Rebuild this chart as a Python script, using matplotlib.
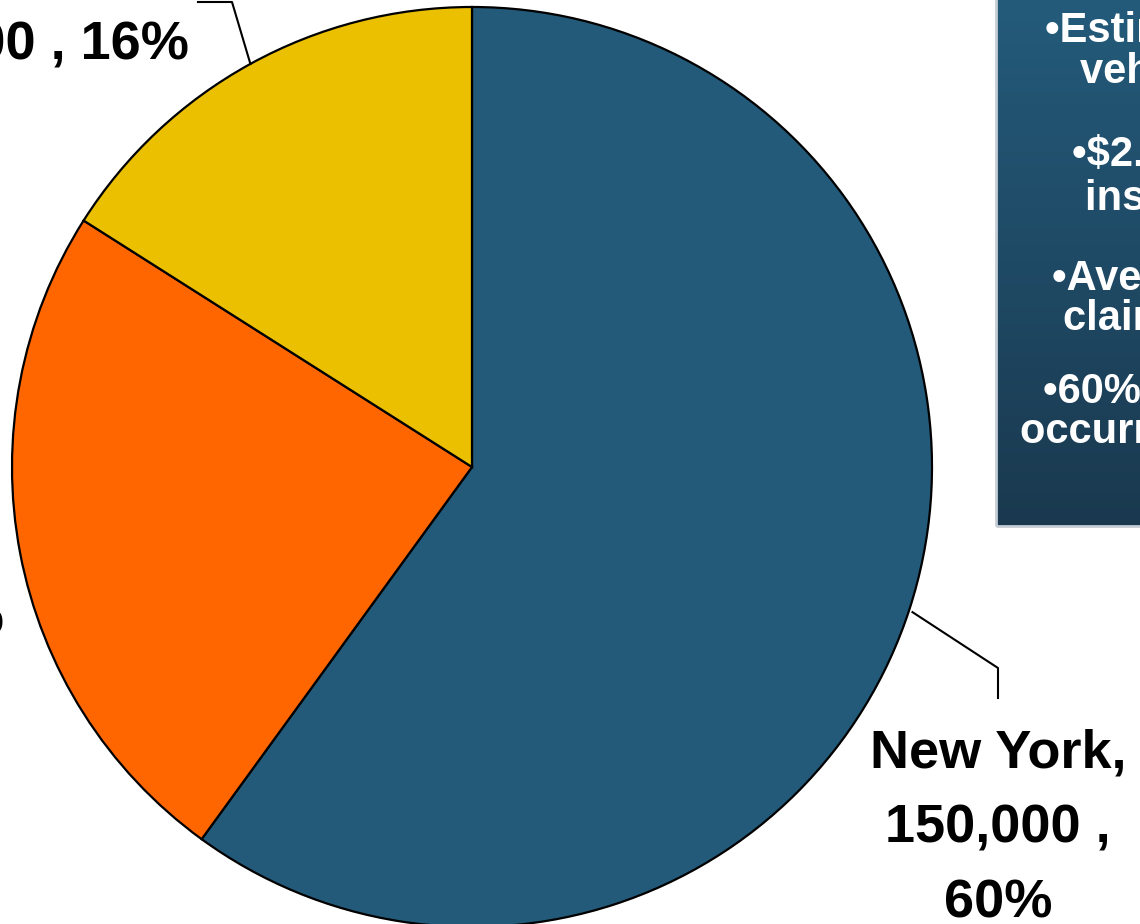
import numpy as np
import matplotlib.pyplot as plt
from matplotlib.patches import Rectangle

plt.rcParams['font.family'] = ['Liberation Sans', 'DejaVu Sans']

# claims by state
states = ['New York', 'New Jersey', 'Connecticut']
claims = [150000, 60000, 40000]
colors = ['#235A7A', '#FF6600', '#EBC000']

# side panel text, one entry per line
notes = ['\u2022Estimated 250,000', 'vehicles damaged',
         '\u2022$2.6 billion in', 'insured losses',
         '\u2022Average of $10,400 per', 'claim filed',
         '\u202260% of losses', 'occurred in New York']

W, H = 1140, 924

fig = plt.figure(figsize=(W / 100, H / 100), dpi=100)
ax = fig.add_axes([0, 0, 1, 1])

cx, cy, r = 472, H - 467, 460
wedges, _ = ax.pie(claims, colors=colors, startangle=90, counterclock=False,
                   center=(cx, cy), radius=r,
                   wedgeprops=dict(edgecolor='black', linewidth=1.6))

ax.set_xlim(0, W)
ax.set_ylim(0, H)
ax.set_aspect('equal')
ax.axis('off')

total = sum(claims)
pcts = [round(100 * v / total) for v in claims]

def edge_point(w):
    ang = np.deg2rad((w.theta1 + w.theta2) / 2)
    return cx + r * np.cos(ang), cy + r * np.sin(ang)

lab_kw = dict(fontsize=39, fontweight='bold', color='black',
              multialignment='center', linespacing=1.65)

# New York - leader bends down to the label below right
x0, y0 = edge_point(wedges[0])
ax.plot([x0 + 3, 998, 998], [y0 - 3, H - 668, H - 698], color='black', lw=1.5)
ax.text(998, H - 918, f'{states[0]},\n{claims[0]:,} ,\n{pcts[0]}%',
        ha='center', va='baseline', **lab_kw)

# second slice - label sits off to the left
ax.text(4, H - 633, f'{states[1]},\n{claims[1]:,} , {pcts[1]}%',
        ha='right', va='baseline', **lab_kw)

# third slice - leader up and to the left
x2, y2 = edge_point(wedges[2])
ax.plot([x2, 232, 198], [y2, H - 2, H - 2], color='black', lw=1.5)
ax.text(193, H - 60, f'{states[2]},\n{claims[2]:,} , {pcts[2]}%',
        ha='right', va='baseline', **lab_kw)

# notes panel with vertical gradient
bx0, bx1, by0 = 996, W + 20, H - 526
grad = np.linspace(0, 1, 256)[:, None]
top = np.array([0x24, 0x5B, 0x7B]) / 255
bot = np.array([0x1A, 0x39, 0x4F]) / 255
img = top[None, None, :] * (1 - grad[:, :, None]) + bot[None, None, :] * grad[:, :, None]
ax.imshow(img, extent=[bx0, bx1, by0, H + 5], origin='upper', aspect='auto', zorder=3)
ax.add_patch(Rectangle((bx0, by0), bx1 - bx0, H + 10 - by0, facecolor='none',
                       edgecolor='#C5CDD5', lw=2, zorder=4))
ax.set_xlim(0, W)
ax.set_ylim(0, H)

note_x = [1045, 1080, 1072, 1085, 1052, 1063, 1043, 1020]
note_y = [42, 83, 166, 210, 290, 330, 403, 443]
for txt, x, y in zip(notes, note_x, note_y):
    ax.text(x, H - y, txt, ha='left', va='baseline', fontsize=30,
            fontweight='bold', color='white', zorder=5)

fig.savefig('out.png', dpi=100)
